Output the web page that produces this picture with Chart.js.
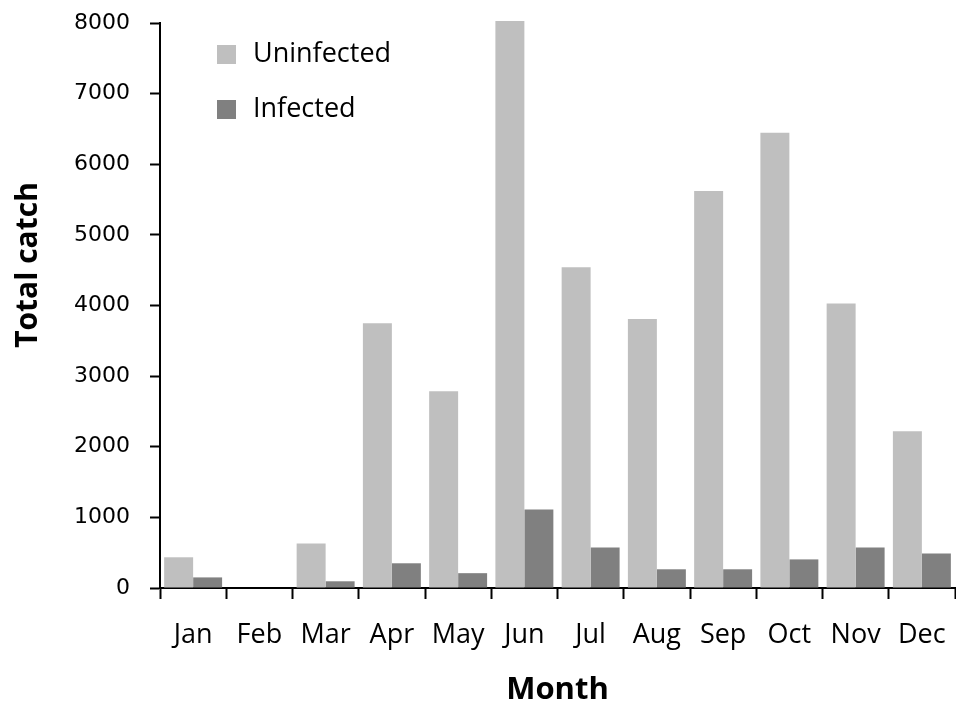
<!DOCTYPE html>
<html>
<head>
<meta charset="utf-8">
<script src="https://cdn.jsdelivr.net/npm/chart.js@4/dist/chart.umd.min.js"></script>
<style>
    html, body { margin: 0; padding: 0; background: #fff; }
    #wrap { width: 956px; height: 711px; }
</style>
</head>
<body>
<div id="wrap"><canvas id="chart" width="956" height="711"></canvas></div>
<script>
// данные
const months = ['Jan', 'Feb', 'Mar', 'Apr', 'May', 'Jun', 'Jul', 'Aug', 'Sep', 'Oct', 'Nov', 'Dec'];
const uninfected = [435, 0, 630, 3750, 2785, 8030, 4540, 3810, 5620, 6445, 4030, 2220];
const infected = [150, 0, 95, 350, 210, 1110, 575, 265, 265, 405, 575, 490];
const yTicks = [0, 1000, 2000, 3000, 4000, 5000, 6000, 7000, 8000];

const labelFont = "'Open Sans', 'DejaVu Sans', sans-serif";

// легенда столбиком внутри области графика
const boxLegend = {
    id: 'boxLegend',
    afterDraw(chart) {
        const { ctx, chartArea } = chart;
        ctx.save();
        ctx.font = `27px ${labelFont}`;
        ctx.textBaseline = 'middle';
        chart.data.datasets.forEach((ds, i) => {
            const x = chartArea.left + 57;
            const y = chartArea.top + 31 + i * 55;
            ctx.fillStyle = ds.backgroundColor;
            ctx.fillRect(x, y - 9, 19, 19);
            ctx.fillStyle = '#000';
            ctx.fillText(ds.label, x + 36, y);
        });
        ctx.restore();
    }
};

// подпись оси Y — сдвинута выше центра, как в оригинале
const yTitle = {
    id: 'yTitle',
    afterDraw(chart) {
        const { ctx, chartArea } = chart;
        ctx.save();
        ctx.translate(28, chartArea.top + 242);
        ctx.rotate(-Math.PI / 2);
        ctx.font = `bold 30px ${labelFont}`;
        ctx.fillStyle = '#000';
        ctx.textAlign = 'center';
        ctx.textBaseline = 'middle';
        ctx.fillText('Total catch', 0, 0);
        ctx.restore();
    }
};

const ctx = document.getElementById('chart').getContext('2d');
new Chart(ctx, {
    type: 'bar',
    data: {
        labels: months,
        datasets: [
            { label: 'Uninfected', data: uninfected, backgroundColor: '#bfbfbf', clip: false },
            { label: 'Infected', data: infected, backgroundColor: '#808080', clip: false },
        ],
    },
    options: {
        responsive: false,
        animation: false,
        categoryPercentage: 0.875,
        barPercentage: 1.0,
        layout: { padding: { top: 23, right: 1, left: 0, bottom: 0 } },
        plugins: {
            legend: { display: false },
            tooltip: { enabled: false },
        },
        scales: {
            x: {
                grid: {
                    offset: true,
                    drawOnChartArea: false,
                    drawTicks: true,
                    tickLength: 11,
                    tickColor: '#000',
                    tickWidth: 2,
                },
                border: { display: true, color: '#000', width: 2 },
                ticks: {
                    color: '#000',
                    font: { family: labelFont, size: 27 },
                    padding: 20,
                    maxRotation: 0,
                },
                title: {
                    display: true,
                    text: 'Month',
                    color: '#000',
                    font: { family: labelFont, size: 31, weight: 'bold' },
                    padding: { top: 0, bottom: 2 },
                },
                afterFit: (scale) => {
                    scale.height = 123;
                    scale.paddingLeft = 0;
                    scale.paddingRight = 0;
                },
            },
            y: {
                min: 0,
                max: 8000,
                afterBuildTicks: (scale) => { scale.ticks = yTicks.map(v => ({ value: v })); },
                grid: {
                    drawOnChartArea: false,
                    drawTicks: true,
                    tickLength: 10,
                    tickColor: '#000',
                    tickWidth: 2,
                },
                border: { display: true, color: '#000', width: 2 },
                ticks: {
                    color: '#000',
                    font: { family: "'DejaVu Sans', sans-serif", size: 22 },
                    padding: 20,
                    callback: (value) => String(value),
                },
                afterFit: (scale) => {
                    scale.width = 160;
                    scale.paddingTop = 0;
                    scale.paddingBottom = 0;
                },
            },
        },
    },
    plugins: [boxLegend, yTitle],
});
</script>
</body>
</html>
